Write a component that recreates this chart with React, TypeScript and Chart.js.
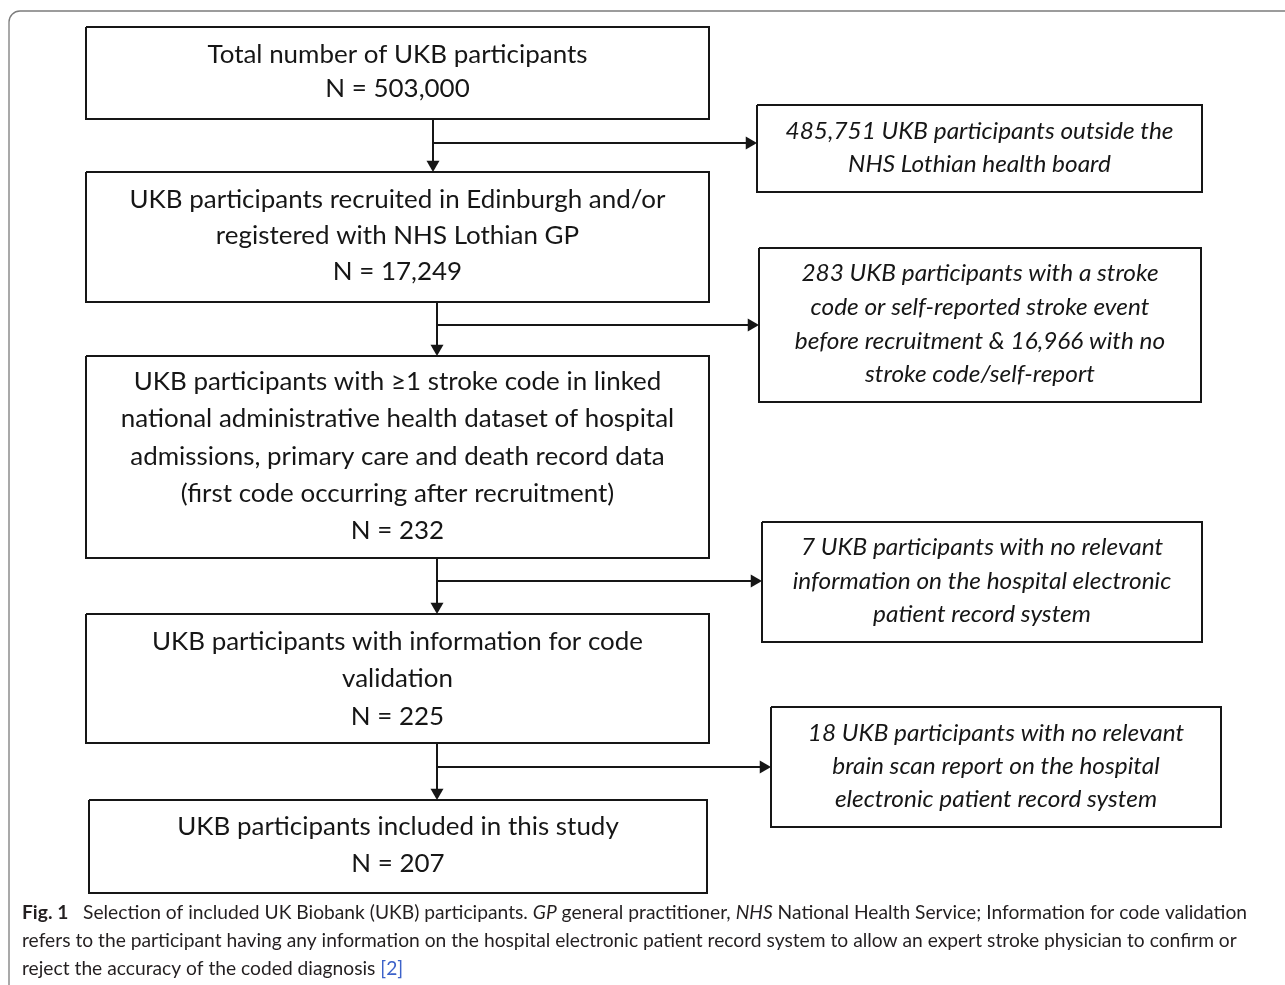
import React, { useEffect, useRef } from "react";
import { Chart, registerables } from "chart.js";

Chart.register(...registerables);

// ---------------- data ----------------
const fmt = (n: number) => n.toLocaleString("en-US");

const stepCounts = [503000, 17249, 232, 225, 207];
const stepTitles: string[][] = [
  ["Total number of UKB participants"],
  ["UKB participants recruited in Edinburgh and/or", "registered with NHS Lothian GP"],
  [
    "UKB participants with \u22651 stroke code in linked",
    "national administrative health dataset of hospital",
    "admissions, primary care and death record data",
    "(first code occurring after recruitment)",
  ],
  ["UKB participants with information for code", "validation"],
  ["UKB participants included in this study"],
];

const excludedCounts = [485751, 283, 7, 18];
const noStrokeCount = 16966;
const exclusionLines: string[][] = [
  [`${fmt(excludedCounts[0])} UKB participants outside the`, "NHS Lothian health board"],
  [
    `${fmt(excludedCounts[1])} UKB participants with a stroke`,
    "code or self-reported stroke event",
    `before recruitment & ${fmt(noStrokeCount)} with no`,
    "stroke code/self-report",
  ],
  [
    `${fmt(excludedCounts[2])} UKB participants with no relevant`,
    "information on the hospital electronic",
    "patient record system",
  ],
  [
    `${fmt(excludedCounts[3])} UKB participants with no relevant`,
    "brain scan report on the hospital",
    "electronic patient record system",
  ],
];

type Run = { t: string; b?: boolean; i?: boolean; c?: string };
const captionLines: Run[][] = [
  [
    { t: "Fig. 1", b: true },
    { t: "   Selection of included UK Biobank (UKB) participants. " },
    { t: "GP", i: true },
    { t: " general practitioner, " },
    { t: "NHS", i: true },
    { t: " National Health Service; Information for code validation" },
  ],
  [
    {
      t: "refers to the participant having any information on the hospital electronic patient record system to allow an expert stroke physician to confirm or",
    },
  ],
  [{ t: "reject the accuracy of the coded diagnosis " }, { t: "[2]", c: "#3d62c9" }],
];

// ---------------- layout (page pixels) ----------------
const W = 1285;
const H = 985;
const stepBoxX = [
  [86, 709],
  [86, 709],
  [86, 709],
  [86, 709],
  [89, 707],
];
const stepBoxY = [
  [27, 119],
  [172, 302],
  [356, 558],
  [614, 743],
  [800, 893],
];
const stepLineY = [
  [55, 89],
  [200, 236, 272],
  [382, 419, 457, 494, 531],
  [642, 679, 717],
  [827, 864],
];
const spineX = [433, 437, 437, 437];
const branchY = [143, 325, 581, 767];
const exBoxX = [
  [757, 1202],
  [759, 1201],
  [762, 1202],
  [771, 1221],
];
const exBoxY = [
  [105, 192],
  [248, 402],
  [522, 642],
  [707, 827],
];
const exLineY = [
  [132, 165],
  [274, 308, 342, 375],
  [548, 582, 615],
  [734, 767, 800],
];
const captionY = [913, 941, 969];
const captionX = 22;
const captionWidth = 1225;
const ARROW_R = 7.5;

const INK = "#161616";

function rect(x1: number, y1: number, x2: number, y2: number) {
  return [
    { x: x1, y: y1 },
    { x: x2, y: y1 },
    { x: x2, y: y2 },
    { x: x1, y: y2 },
    { x: x1, y: y1 },
  ];
}

const frameAndTextPlugin = {
  id: "flowText",
  beforeDatasetsDraw(chart: any) {
    const { ctx, scales } = chart;
    const xs = scales.x;
    const ys = scales.y;
    const fx = xs.getPixelForValue(9);
    const fy = ys.getPixelForValue(11);
    const r = 11;
    ctx.save();
    ctx.strokeStyle = "#7c7c7c";
    ctx.lineWidth = 1.3;
    ctx.beginPath();
    ctx.moveTo(fx, ys.getPixelForValue(H + 20));
    ctx.lineTo(fx, fy + r);
    ctx.arcTo(fx, fy, fx + r, fy, r);
    ctx.lineTo(xs.getPixelForValue(W + 20), fy);
    ctx.stroke();
    ctx.restore();
  },
  afterDatasetsDraw(chart: any) {
    const { ctx, scales } = chart;
    const xs = scales.x;
    const ys = scales.y;
    ctx.save();
    ctx.textBaseline = "middle";
    ctx.textAlign = "center";
    ctx.fillStyle = INK;

    // regular box text
    ctx.font = "25px Lato";
    const regScale = 380 / ctx.measureText(stepTitles[0][0]).width;
    stepTitles.forEach((lines, i) => {
      const all = [...lines, `N = ${fmt(stepCounts[i])}`];
      const cx = xs.getPixelForValue((stepBoxX[i][0] + stepBoxX[i][1]) / 2);
      all.forEach((t, k) => {
        const cy = ys.getPixelForValue(stepLineY[i][k]);
        ctx.save();
        ctx.translate(cx, cy);
        ctx.scale(regScale, 1);
        ctx.fillText(t, 0, 0);
        ctx.restore();
      });
    });

    // italic exclusion text
    ctx.font = "italic 23px Lato";
    const itScale = 388 / ctx.measureText(exclusionLines[0][0]).width;
    exclusionLines.forEach((lines, i) => {
      const cx = xs.getPixelForValue((exBoxX[i][0] + exBoxX[i][1]) / 2);
      lines.forEach((t, k) => {
        const cy = ys.getPixelForValue(exLineY[i][k]);
        ctx.save();
        ctx.translate(cx, cy);
        ctx.scale(itScale, 1);
        ctx.fillText(t, 0, 0);
        ctx.restore();
      });
    });

    // caption
    const runFont = (r: Run) =>
      `${r.i ? "italic " : ""}${r.b ? "bold " : ""}19px Lato`;
    const lineWidth = (runs: Run[]) =>
      runs.reduce((s, r) => {
        ctx.font = runFont(r);
        return s + ctx.measureText(r.t).width;
      }, 0);
    const capScale = captionWidth / lineWidth(captionLines[0]);
    ctx.textAlign = "left";
    captionLines.forEach((runs, k) => {
      ctx.save();
      ctx.translate(xs.getPixelForValue(captionX), ys.getPixelForValue(captionY[k]));
      ctx.scale(capScale, 1);
      let x = 0;
      runs.forEach((r) => {
        ctx.font = runFont(r);
        ctx.fillStyle = r.c || "#231f20";
        ctx.fillText(r.t, x, 0);
        x += ctx.measureText(r.t).width;
      });
      ctx.restore();
    });
    ctx.restore();
  },
};

export default function App() {
  const ref = useRef<HTMLCanvasElement | null>(null);

  useEffect(() => {
    if (!ref.current) return;
    const lineDs = (data: { x: number; y: number }[]) => ({
      data,
      showLine: true,
      borderColor: INK,
      borderWidth: 2,
      pointRadius: 0,
      fill: false,
      tension: 0,
      clip: false,
      borderJoinStyle: "miter" as const,
      borderCapStyle: "butt" as const,
    });

    const datasets: any[] = [];
    stepBoxX.forEach((bx, i) => {
      datasets.push(lineDs(rect(bx[0], stepBoxY[i][0], bx[1], stepBoxY[i][1])));
    });
    exBoxX.forEach((bx, i) => {
      datasets.push(lineDs(rect(bx[0], exBoxY[i][0], bx[1], exBoxY[i][1])));
    });
    const heads: { x: number; y: number }[] = [];
    const rot: number[] = [];
    spineX.forEach((sx, i) => {
      const top = stepBoxY[i][1];
      const bottom = stepBoxY[i + 1][0];
      datasets.push(lineDs([{ x: sx, y: top }, { x: sx, y: bottom - ARROW_R }]));
      heads.push({ x: sx, y: bottom - ARROW_R });
      rot.push(180);
      const ex = exBoxX[i][0];
      datasets.push(lineDs([{ x: sx, y: branchY[i] }, { x: ex - ARROW_R, y: branchY[i] }]));
      heads.push({ x: ex - ARROW_R, y: branchY[i] });
      rot.push(90);
    });
    datasets.push({
      data: heads,
      showLine: false,
      pointStyle: "triangle",
      pointRadius: ARROW_R,
      pointRotation: rot,
      backgroundColor: INK,
      borderColor: INK,
      borderWidth: 0,
      clip: false,
    });

    const chart = new Chart(ref.current, {
      type: "scatter",
      data: { datasets },
      options: {
        animation: false,
        responsive: false,
        devicePixelRatio: 1,
        events: [],
        layout: { padding: 0, autoPadding: false },
        scales: {
          x: { type: "linear", min: 0, max: W, display: false },
          y: { type: "linear", min: 0, max: H, reverse: true, display: false },
        },
        plugins: { legend: { display: false }, tooltip: { enabled: false }, title: { display: false } },
      },
      plugins: [frameAndTextPlugin],
    });
    return () => chart.destroy();
  }, []);

  return (
    <div style={{ position: "absolute", left: 0, top: 0, width: W, height: H, background: "#fff" }}>
      <canvas ref={ref} width={W} height={H} style={{ display: "block", width: W, height: H }} />
    </div>
  );
}
